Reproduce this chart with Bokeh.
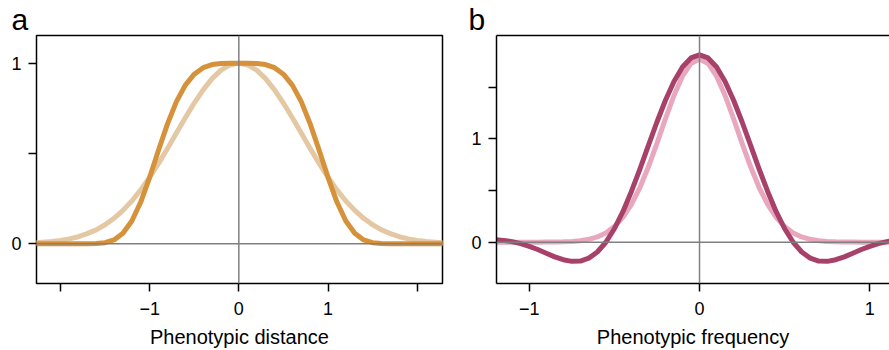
from bokeh.plotting import figure
from bokeh.models import Span, FixedTicker, Range1d, LinearAxis, Title
from bokeh.layouts import row
from bokeh.embed import file_html
from bokeh.resources import INLINE

FONT = "Liberation Sans"

# ---- Panel a: kernels in phenotypic distance ----
dist_x = [-2.3, -2.2, -2.1, -2.0, -1.9, -1.8, -1.7, -1.6, -1.5, -1.4, -1.3, -1.2,
          -1.1, -1.0, -0.9, -0.8, -0.7, -0.6, -0.5, -0.4, -0.3, -0.2, -0.1, 0.0,
          0.1, 0.2, 0.3, 0.4, 0.5, 0.6, 0.7, 0.8, 0.9, 1.0, 1.1, 1.2, 1.3, 1.4,
          1.5, 1.6, 1.7, 1.8, 1.9, 2.0, 2.1, 2.2, 2.3]
dist_light = [0.005, 0.008, 0.012, 0.018, 0.027, 0.039, 0.056, 0.077, 0.105, 0.141,
              0.185, 0.237, 0.298, 0.368, 0.445, 0.527, 0.613, 0.698, 0.779, 0.852,
              0.914, 0.961, 0.990, 1.000, 0.990, 0.961, 0.914, 0.852, 0.779, 0.698,
              0.613, 0.527, 0.445, 0.368, 0.298, 0.237, 0.185, 0.141, 0.105, 0.077,
              0.056, 0.039, 0.027, 0.018, 0.012, 0.008, 0.005]
dist_dark = [0.0, 0.0, 0.0, 0.0, 0.0, 0.0, 0.0, 0.001, 0.006, 0.021, 0.058, 0.126,
             0.231, 0.368, 0.519, 0.664, 0.787, 0.878, 0.939, 0.975, 0.992, 0.998,
             1.000, 1.000, 1.000, 0.998, 0.992, 0.975, 0.939, 0.878, 0.787, 0.664,
             0.519, 0.368, 0.231, 0.126, 0.058, 0.021, 0.006, 0.001, 0.0, 0.0, 0.0,
             0.0, 0.0, 0.0, 0.0]

# ---- Panel b: spectra in phenotypic frequency ----
freq_x = [-1.3, -1.25, -1.2, -1.15, -1.1, -1.05, -1.0, -0.95, -0.9, -0.85, -0.8,
          -0.75, -0.7, -0.65, -0.6, -0.55, -0.5, -0.45, -0.4, -0.35, -0.3, -0.25,
          -0.2, -0.15, -0.1, -0.05, 0.0, 0.05, 0.1, 0.15, 0.2, 0.25, 0.3, 0.35, 0.4,
          0.45, 0.5, 0.55, 0.6, 0.65, 0.7, 0.75, 0.8, 0.85, 0.9, 0.95, 1.0, 1.05,
          1.1, 1.15, 1.2, 1.25, 1.3]
freq_light = [0.0, 0.0, 0.0, 0.0, 0.0, 0.0, 0.0001, 0.0002, 0.0006, 0.0014, 0.0032,
              0.0069, 0.0141, 0.0274, 0.0508, 0.0895, 0.1503, 0.2402, 0.3654, 0.5290,
              0.7291, 0.9565, 1.1944, 1.4195, 1.6059, 1.7293, 1.7725, 1.7293, 1.6059,
              1.4195, 1.1944, 0.9565, 0.7291, 0.5290, 0.3654, 0.2402, 0.1503, 0.0895,
              0.0508, 0.0274, 0.0141, 0.0069, 0.0032, 0.0014, 0.0006, 0.0002, 0.0001,
              0.0, 0.0, 0.0, 0.0, 0.0, 0.0]
freq_dark = [0.022, 0.024, 0.023, 0.017, 0.005, -0.014, -0.040, -0.071, -0.107, -0.142,
             -0.170, -0.1858, -0.1830, -0.1546, -0.0952, -0.0008, 0.1298, 0.2952,
             0.4906, 0.7078, 0.9362, 1.1628, 1.3737, 1.5551, 1.6948, 1.7828, 1.8128,
             1.7828, 1.6948, 1.5551, 1.3737, 1.1628, 0.9362, 0.7078, 0.4906, 0.2952,
             0.1298, -0.0008, -0.0952, -0.1546, -0.1830, -0.1858, -0.170, -0.142,
             -0.107, -0.071, -0.040, -0.014, 0.005, 0.017, 0.023, 0.024, 0.022]

a_xticks = [-2, -1, 0, 1, 2]
a_xlabels = {-2: "", -1: "\u22121", 0: "0", 1: "1", 2: ""}
a_yticks = [0, 0.5, 1]
a_ylabels = {0: "0", 0.5: "", 1: "1"}
b_xticks = [-1, 0, 1]
b_xlabels = {-1: "\u22121", 0: "0", 1: "1"}
b_yticks = [0, 0.5, 1, 1.5]
b_ylabels = {0: "0", 0.5: "", 1: "1", 1.5: ""}

H = 350
TOP = 34
BOTTOM = 64


def style_axis(ax, ticks, labels, line):
    ax.ticker = FixedTicker(ticks=ticks)
    ax.major_label_overrides = labels
    ax.major_tick_out = 8
    ax.major_tick_in = 0
    ax.minor_tick_out = 0
    ax.minor_tick_in = 0
    ax.major_tick_line_color = "black"
    ax.major_tick_line_width = 1.5
    ax.major_label_text_font = FONT
    ax.major_label_text_font_size = "18px"
    ax.major_label_text_color = "black"
    ax.axis_line_color = "black" if line else None
    ax.axis_line_width = 1.5


def make_fig(width, bl, br, xr, yr, xt, xl, yt, yl, full_box, letter, loff, xlabel):
    p = figure(width=width, height=H, x_range=Range1d(*xr), y_range=Range1d(*yr),
               output_backend="svg", toolbar_location=None, title=None,
               min_border_left=bl, min_border_right=br,
               min_border_top=TOP, min_border_bottom=BOTTOM)
    p.grid.visible = False
    p.background_fill_color = "white"
    p.border_fill_color = "white"
    style_axis(p.xaxis[0], xt, xl, not full_box)
    style_axis(p.yaxis[0], yt, yl, not full_box)
    p.xaxis.major_label_standoff = 10
    p.yaxis.major_label_standoff = 7
    p.xaxis.axis_label = xlabel
    p.xaxis.axis_label_text_font = FONT
    p.xaxis.axis_label_text_font_size = "20px"
    p.xaxis.axis_label_text_font_style = "normal"
    p.xaxis.axis_label_text_color = "black"
    p.xaxis.axis_label_standoff = 8
    if full_box:
        p.outline_line_color = "black"
        p.outline_line_width = 1.5
        p.outline_line_alpha = 1.0
    else:
        p.outline_line_color = None
        top = LinearAxis(ticker=FixedTicker(ticks=[]))
        top.axis_line_color = "black"
        top.axis_line_width = 1.5
        top.major_tick_line_color = None
        top.minor_tick_line_color = None
        top.major_label_text_font_size = "0px"
        p.add_layout(top, "above")
    t = Title(text=letter, text_font=FONT, text_font_size="30px", text_font_style="normal",
              text_color="black", align="left", offset=loff, standoff=0)
    p.add_layout(t, "above")
    p.add_layout(Span(location=0, dimension="width", line_color="#808080", line_width=1.5))
    p.add_layout(Span(location=0, dimension="height", line_color="#808080", line_width=1.5))
    return p


pa = make_fig(446, 36, 4, (-2.269, 2.284), (-0.22, 1.153),
              a_xticks, a_xlabels, a_yticks, a_ylabels, True, "a", -25,
              "Phenotypic distance")
pa.line(dist_x, dist_light, line_color="#E3C8A3", line_width=5, line_join="round")
pa.line(dist_x, dist_dark, line_color="#D6913B", line_width=5, line_join="round")

pb = make_fig(443, 50, 0, (-1.192, 1.1154), (-0.4, 2.0),
              b_xticks, b_xlabels, b_yticks, b_ylabels, False, "b", -28,
              "Phenotypic frequency")
pb.line(freq_x, freq_light, line_color="#E8A7BD", line_width=5, line_join="round")
pb.line(freq_x, freq_dark, line_color="#A8416A", line_width=5, line_join="round")

layout = row(pa, pb, spacing=0)
open("out.html", "w").write(file_html(layout, INLINE))
